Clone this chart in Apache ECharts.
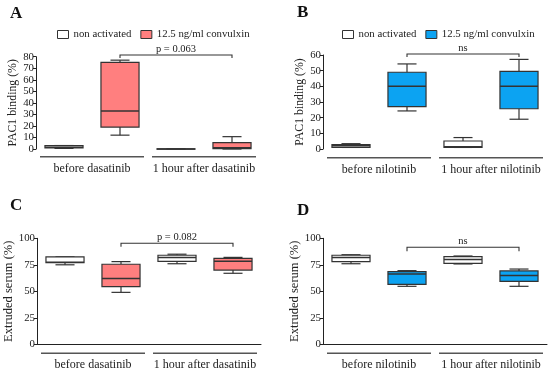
<!DOCTYPE html>
<html><head><meta charset="utf-8">
<script src="https://cdn.jsdelivr.net/npm/echarts@6/dist/echarts.min.js"></script>
<style>html,body{margin:0;padding:0;background:#fff}#c{width:550px;height:377px}</style>
</head><body><div id="c"></div>
<script>
// ---------- data ----------
const legendLabels = ['non activated', '12.5 ng/ml convulxin'];
const groupsDasatinib = ['before dasatinib', '1 hour after dasatinib'];
const groupsNilotinib = ['before nilotinib', '1 hour after nilotinib'];
const yTitlePAC1 = 'PAC1 binding (%)';
const yTitleSerum = 'Extruded serum (%)';
const panelLetters = ['A', 'B', 'C', 'D'];
const pLabels = ['p = 0.063', 'ns', 'p = 0.082', 'ns'];
// each entry: [min, Q1, median, Q3, max] for [before, 1 hour after]
const nonActA = [[0.5, 1, 1.5, 2.9, 3], [0, 0, 0.1, 0.2, 0.3]];
const cvxA    = [[12, 19, 33, 75, 77], [0, 0.3, 1, 5.5, 10.7]];
const nonActB = [[1, 1.1, 2, 2.8, 3.4], [1, 1.1, 1.5, 5.1, 7.3]];
const cvxB    = [[24.3, 27, 40, 49, 54.3], [19, 25.7, 40, 49.6, 57.2]];
const nonActC = [[75, 77, 77.5, 82.4, 82.4], [76, 78.3, 81.8, 84, 85]];
const cvxC    = [[49, 54.4, 62, 75.5, 78], [67, 70, 78.3, 81, 82]];
const nonActD = [[76, 78, 82, 84, 84.5], [75.8, 76.4, 80, 82.7, 83.3]];
const cvxD    = [[54.7, 56.6, 66.4, 68.5, 69.5], [54.7, 59.4, 65, 69.2, 71]];
const yTicksA = [0, 80, 10];
const yTicksB = [0, 60, 10];
const yTicksC = [0, 100, 25];
const yTicksD = [0, 100, 25];

// ---------- layout / style ----------
const FONT = 'Liberation Serif';
const INK = '#222';
const EDGE = '#333';
const RED = '#ff7f7f';
const BLUE = '#0ca3f2';
const slots = ['before-non', 'before-cvx', 'after-non', 'after-cvx'];

const panels = [
  {grid: {left: 36, top: 56.7, width: 224, height: 92.3}, ticks: yTicksA, non: nonActA, cvx: cvxA, color: RED,
   groups: groupsDasatinib, title: yTitlePAC1, titleSize: 11.8, showX: false, legend: {left: 57, top: 29},
   bracketV: 81.5, bracketTick: 3, groupOff: 7.7, letter: {left: 10, top: 5}},
  {grid: {left: 323, top: 55, width: 224, height: 94}, ticks: yTicksB, non: nonActB, cvx: cvxB, color: BLUE,
   groups: groupsNilotinib, title: yTitlePAC1, titleSize: 11.8, showX: false, legend: {left: 342, top: 29},
   bracketV: 60.6, bracketTick: 3, groupOff: 8.7, letter: {left: 297, top: 4}},
  {grid: {left: 37, top: 238.3, width: 224, height: 106}, ticks: yTicksC, non: nonActC, cvx: cvxC, color: RED,
   groups: groupsDasatinib, title: yTitleSerum, titleSize: 12.5, showX: true, legend: null,
   bracketV: 95.3, bracketTick: 3.5, groupOff: 9, letter: {left: 10, top: 197}},
  {grid: {left: 323, top: 238.3, width: 224, height: 106}, ticks: yTicksD, non: nonActD, cvx: cvxD, color: BLUE,
   groups: groupsNilotinib, title: yTitleSerum, titleSize: 12.5, showX: true, legend: null,
   bracketV: 91.5, bracketTick: 4, groupOff: 9, letter: {left: 297, top: 202}}
];

function renderBox(params, api) {
  const x = api.value(0);
  const mn = api.value(1), q1 = api.value(2), md = api.value(3), q3 = api.value(4), mx = api.value(5);
  const cx = api.coord([x, md])[0];
  const py = v => api.coord([x, v])[1];
  const bw = api.size([1, 0])[0] * 0.68;
  const cap = bw * 0.5;
  const fill = api.visual('color');
  const ls = {stroke: EDGE, lineWidth: 1.2};
  return {type: 'group', children: [
    {type: 'line', shape: {x1: cx, y1: py(mx), x2: cx, y2: py(q3)}, style: ls},
    {type: 'line', shape: {x1: cx, y1: py(q1), x2: cx, y2: py(mn)}, style: ls},
    {type: 'line', shape: {x1: cx - cap / 2, y1: py(mx), x2: cx + cap / 2, y2: py(mx)}, style: ls},
    {type: 'line', shape: {x1: cx - cap / 2, y1: py(mn), x2: cx + cap / 2, y2: py(mn)}, style: ls},
    {type: 'rect', shape: {x: cx - bw / 2, y: py(q3), width: bw, height: Math.max(py(q1) - py(q3), 0.5)},
     style: {fill: fill, stroke: EDGE, lineWidth: 1.2}},
    {type: 'line', shape: {x1: cx - bw / 2, y1: py(md), x2: cx + bw / 2, y2: py(md)}, style: {stroke: EDGE, lineWidth: 1.5}}
  ]};
}

const option = {
  animation: false,
  backgroundColor: '#fff',
  title: panels.map((p, i) => ({text: panelLetters[i], left: p.letter.left, top: p.letter.top, padding: 0,
    textStyle: {fontFamily: FONT, fontWeight: 'bold', fontSize: 17, color: '#111'}})),
  grid: panels.map(p => Object.assign({containLabel: false}, p.grid)),
  xAxis: panels.map((p, i) => ({type: 'category', gridIndex: i, data: slots,
    axisLine: {show: p.showX, lineStyle: {color: INK, width: 1}}, axisTick: {show: false}, axisLabel: {show: false},
    splitLine: {show: false}})),
  yAxis: panels.map((p, i) => ({type: 'value', gridIndex: i, min: p.ticks[0], max: p.ticks[1], interval: p.ticks[2],
    name: p.title, nameLocation: 'middle', nameGap: 14, nameRotate: 90,
    nameTextStyle: {fontFamily: FONT, fontSize: p.titleSize, color: INK},
    axisLine: {show: true, lineStyle: {color: INK, width: 1}},
    axisTick: {show: true, length: 3, lineStyle: {color: INK}},
    axisLabel: {fontFamily: FONT, fontSize: 10.8, color: INK, margin: 2},
    splitLine: {show: false}})),
  legend: panels.filter(p => p.legend).map((p, k) => ({
    left: p.legend.left, top: p.legend.top, width: 250, orient: 'horizontal', itemWidth: 11, itemHeight: 8, itemGap: 9,
    padding: 0, selectedMode: false,
    textStyle: {fontFamily: FONT, fontSize: 10.8, color: INK},
    formatter: name => name.startsWith('non') ? legendLabels[0] : legendLabels[1],
    data: [
      {name: 'non' + k, icon: 'rect', itemStyle: {color: '#fff', borderColor: EDGE, borderWidth: 1}},
      {name: 'cvx' + k, icon: 'rect', itemStyle: {color: p.color, borderColor: EDGE, borderWidth: 1}}
    ]})),
  series: []
};
panels.forEach((p, i) => {
  option.series.push({type: 'custom', name: 'non' + i, xAxisIndex: i, yAxisIndex: i, renderItem: renderBox,
    clip: false, itemStyle: {color: '#fff', borderColor: EDGE}, encode: {x: 0, y: [1, 2, 3, 4, 5]},
    data: p.non.map((v, g) => [2 * g].concat(v))});
  option.series.push({type: 'custom', name: 'cvx' + i, xAxisIndex: i, yAxisIndex: i, renderItem: renderBox,
    clip: false, itemStyle: {color: p.color, borderColor: EDGE}, encode: {x: 0, y: [1, 2, 3, 4, 5]},
    data: p.cvx.map((v, g) => [2 * g + 1].concat(v))});
});

const chart = echarts.init(document.getElementById('c'), null, {renderer: 'canvas'});
chart.setOption(option);

// annotations placed through the axes' own scales
const gfx = [];
panels.forEach((p, i) => {
  const s = 2 * i;
  const px = (slot, v) => chart.convertToPixel({seriesIndex: s}, [slot, v]);
  const y0 = px(0, 0)[1];
  p.groups.forEach((label, g) => {
    const a = px(2 * g, 0)[0], b = px(2 * g + 1, 0)[0];
    const c = (a + b) / 2;
    const ly = y0 + p.groupOff;
    gfx.push({type: 'line', shape: {x1: c - 52, y1: ly, x2: c + 52, y2: ly}, style: {stroke: '#555', lineWidth: 1.4}});
    gfx.push({type: 'text', x: c, y: ly + 12, style: {text: label, fontFamily: FONT, fontSize: 12, fill: INK,
      align: 'center', verticalAlign: 'middle'}});
  });
  const x1 = px(1, 0)[0], x2 = px(3, 0)[0];
  const by = px(1, p.bracketV)[1];
  gfx.push({type: 'polyline', shape: {points: [[x1, by + p.bracketTick], [x1, by], [x2, by], [x2, by + p.bracketTick]]},
    style: {stroke: EDGE, lineWidth: 1.1, fill: null}});
  gfx.push({type: 'text', x: (x1 + x2) / 2, y: by - 6, style: {text: pLabels[i], fontFamily: FONT, fontSize: 10.5, fill: INK,
    align: 'center', verticalAlign: 'middle'}});
});
chart.setOption({graphic: gfx});
</script></body></html>
